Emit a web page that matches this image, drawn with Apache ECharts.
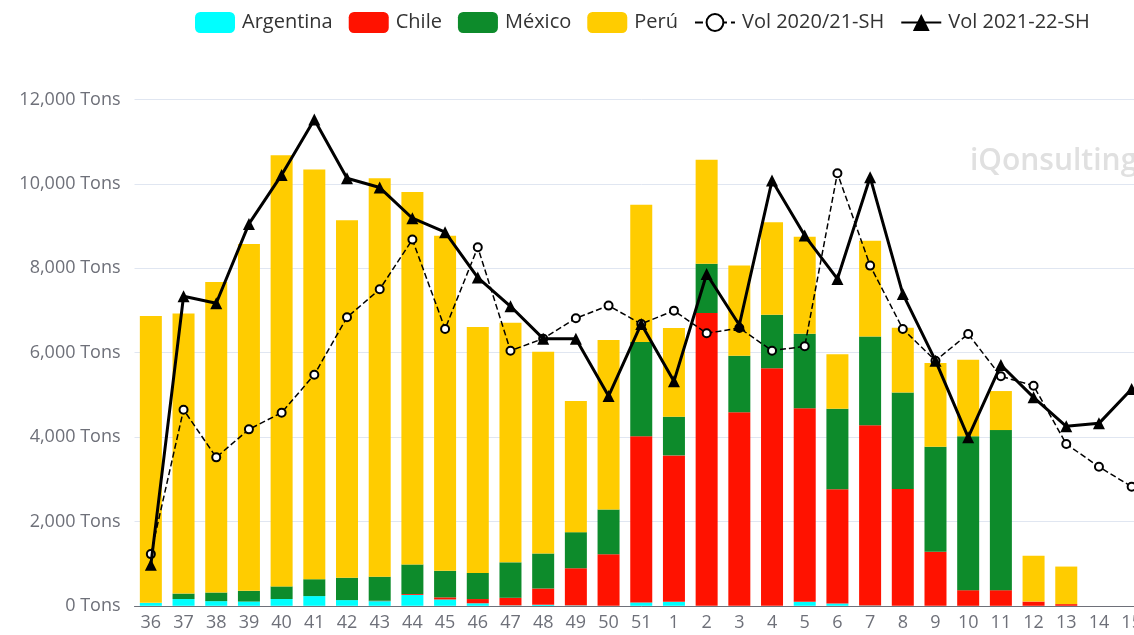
<!DOCTYPE html>
<html>
<head>
<meta charset="utf-8">
<script src="https://cdn.jsdelivr.net/npm/echarts@6/dist/echarts.min.js"></script>
<style>
  html, body { margin: 0; padding: 0; background: #fff; overflow: hidden; }
  /* el gráfico original es más ancho y queda recortado a la derecha */
  #chart { width: 1148px; height: 635px; }
</style>
</head>
<body>
<div id="chart"></div>
<script>
// semanas: 36..51 del 2021, 1..15 del 2022
const weeks = ['36','37','38','39','40','41','42','43','44','45','46','47','48','49','50','51',
  '1','2','3','4','5','6','7','8','9','10','11','12','13','14','15'];

const argentina = [70,160,110,100,160,230,135,110,260,150,60,10,25,10,0,80,
  95,0,0,0,95,55,10,0,0,0,0,0,0,0,0];
const chile = [0,0,0,0,0,0,0,10,20,50,100,180,385,880,1220,3940,
  3470,6940,4590,5630,4590,2710,4270,2770,1280,370,370,100,40,0,0];
const mexico = [0,130,205,255,300,400,530,570,700,630,620,840,830,855,1065,2235,
  917,1170,1335,1270,1760,1905,2100,2285,2490,3650,3795,0,0,0,0];
const peru = [6800,6635,7360,8220,10220,9710,8475,9445,8830,7940,5830,5680,4780,3110,4015,3250,
  2100,2460,2140,2190,2300,1295,2270,1535,1985,1810,925,1085,890,0,0];

const vol2021 = [1225,4648,3518,4182,4577,5478,6838,7502,8680,6561,8498,6047,6332,6814,7115,6680,
  6996,6458,6585,6047,6150,10253,8063,6561,5810,6443,5439,5217,3834,3296,2822];
const vol2122 = [970,7336,7170,9051,10213,11525,10134,9913,9186,8854,7779,7099,6332,6332,4972,6680,
  5320,7865,6656,10079,8775,7747,10158,7391,5810,3992,5707,4941,4253,4324,5138];

const font = '"Open Sans", "Noto Sans", sans-serif';
const grey = '#6e7079';

const chart = echarts.init(document.getElementById('chart'));

function barSerie(name, data, color) {
  return {
    name: name,
    type: 'bar',
    stack: 'total',
    barWidth: 22,
    data: data,
    itemStyle: { color: color }
  };
}

chart.setOption({
  animation: false,
  textStyle: { fontFamily: font },
  legend: {
    left: 190,
    top: 7,
    itemWidth: 40,
    itemHeight: 21,
    itemGap: 16,
    textStyle: { fontSize: 20, color: '#333', fontFamily: font, padding: [0, 0, 0, 2] },
    data: [
      { name: 'Argentina', icon: 'roundRect' },
      { name: 'Chile', icon: 'roundRect' },
      { name: 'México', icon: 'roundRect' },
      { name: 'Perú', icon: 'roundRect' },
      'Vol 2020/21-SH',
      'Vol 2021-22-SH'
    ]
  },
  grid: { left: 134.5, right: 0, top: 99.5, bottom: 29.2, containLabel: false },
  xAxis: {
    type: 'category',
    data: weeks,
    axisLine: { lineStyle: { color: grey } },
    axisTick: { lineStyle: { color: grey } },
    axisLabel: { color: grey, fontSize: 18, margin: 8, interval: 0 }
  },
  yAxis: {
    type: 'value',
    min: 0,
    max: 12000,
    interval: 2000,
    axisLabel: {
      color: grey,
      fontSize: 18,
      margin: 14,
      formatter: v => v.toLocaleString('en-US') + ' Tons'
    },
    splitLine: { lineStyle: { color: '#e0e6f1' } }
  },
  graphic: [{
    type: 'text',
    left: 970,
    top: 146,
    silent: true,
    style: {
      text: 'iQonsulting',
      fontSize: 30,
      fontWeight: 600,
      fontFamily: font,
      fill: '#e0e0e0'
    }
  }],
  series: [
    barSerie('Argentina', argentina, '#00ffff'),
    barSerie('Chile', chile, '#ff1200'),
    barSerie('México', mexico, '#0d8b2b'),
    barSerie('Perú', peru, '#ffcc00'),
    {
      name: 'Vol 2020/21-SH',
      type: 'line',
      data: vol2021,
      symbol: 'emptyCircle',
      symbolSize: 8,
      z: 5,
      lineStyle: { color: '#000', width: 1.5, type: 'dashed' },
      itemStyle: { color: '#000', borderColor: '#000', borderWidth: 2.5 }
    },
    {
      name: 'Vol 2021-22-SH',
      type: 'line',
      data: vol2122,
      symbol: 'triangle',
      symbolSize: 12,
      z: 6,
      lineStyle: { color: '#000', width: 3 },
      itemStyle: { color: '#000' }
    }
  ]
});
</script>
</body>
</html>
